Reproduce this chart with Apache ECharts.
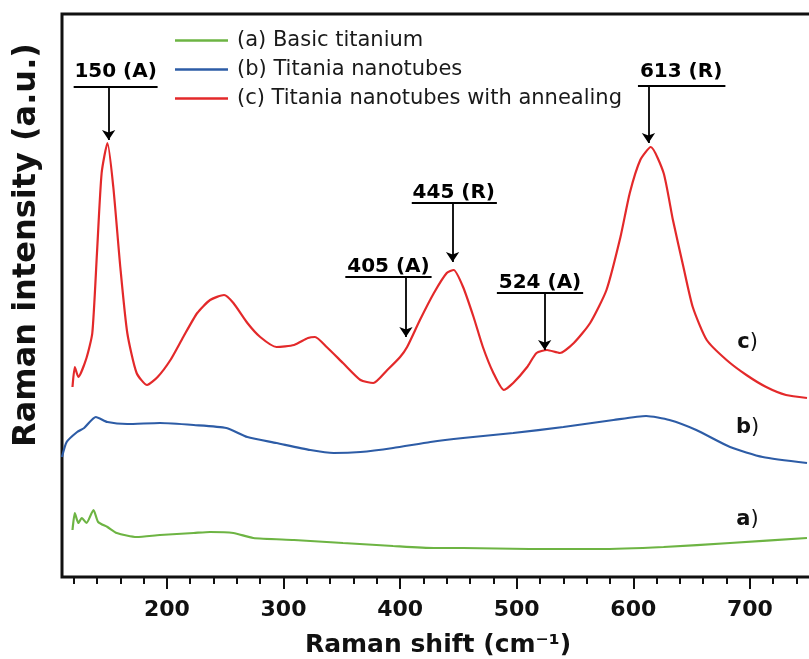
<!DOCTYPE html>
<html>
<head>
<meta charset="utf-8">
<script src="https://cdn.jsdelivr.net/npm/echarts@6/dist/echarts.min.js"></script>
<style>
  html, body { margin: 0; padding: 0; background: #fff; }
  #ramanChart { width: 809px; height: 659px; }
</style>
</head>
<body>
<div id="ramanChart"></div>
<script>
// spectra: Raman shift (cm-1) and intensity (a.u., offset per curve)
const shiftA = [119, 121, 124, 127, 131, 137, 141, 149, 157, 174, 194, 223, 237, 257, 274, 309, 351, 394, 429, 454, 511, 569, 626, 683, 749];
const intensityA = [47, 64, 54, 59, 54, 67, 55, 50, 44, 40, 42, 44, 45, 44, 39, 37, 34, 31, 29, 29, 28, 28, 30, 34, 39];

const shiftB = [110, 114, 123, 129, 139, 149, 166, 194, 223, 251, 269, 294, 323, 343, 366, 394, 426, 454, 497, 540, 583, 611, 631, 654, 683, 711, 749];
const intensityB = [120, 135, 145, 149, 160, 155, 153, 154, 152, 149, 140, 134, 127, 124, 125, 129, 135, 139, 144, 150, 157, 161, 157, 147, 130, 120, 114];

const shiftC = [119, 121, 124, 131, 136, 140, 144, 149, 154, 160, 166, 174, 183, 192, 203, 214, 226, 237, 249, 257, 269, 280, 294, 309, 321, 327, 337, 351, 366, 377, 389, 400, 406, 417, 429, 440, 446, 454, 463, 471, 480, 489, 497, 509, 517, 526, 537, 549, 563, 577, 589, 597, 606, 615, 626, 634, 643, 651, 663, 680, 697, 714, 731, 749];
const intensityC = [190, 210, 200, 219, 244, 324, 404, 434, 390, 310, 244, 204, 192, 200, 217, 240, 264, 277, 282, 274, 254, 240, 230, 232, 239, 240, 230, 214, 197, 194, 207, 220, 230, 257, 284, 304, 307, 290, 260, 230, 204, 187, 194, 210, 224, 227, 224, 234, 254, 287, 340, 384, 417, 430, 404, 357, 310, 270, 237, 217, 202, 190, 182, 179];

const seriesNames = ['(a) Basic titanium', '(b) Titania nanotubes', '(c) Titania nanotubes with annealing'];
const majorTicks = [200, 300, 400, 500, 600, 700];
const minorTicks = [120, 140, 160, 180, 220, 240, 260, 280, 320, 340, 360, 380, 420, 440, 460, 480, 520, 540, 560, 580, 620, 640, 660, 680, 720, 740];

const peakLabels = ['150 (A)', '405 (A)', '445 (R)', '524 (A)', '613 (R)'];
const peakShifts = [150, 405, 445, 524, 613];

const FONT = '"DejaVu Sans", "Liberation Sans", sans-serif';

function zip(xs, ys) {
  return xs.map((x, i) => [x, ys[i]]);
}

// label box / underline / arrow tip for each peak note, in axis units
const noteLayout = [
  {cx: 156, ty: 505, uy: 490, u: [120, 192], tip: 437},
  {cx: 390, ty: 310, uy: 300, u: [353, 427], tip: 240},
  {cx: 446, ty: 384, uy: 374, u: [410, 483], tip: 315},
  {cx: 520, ty: 294, uy: 284, u: [483, 557], tip: 227},
  {cx: 641, ty: 505, uy: 491, u: [604, 679], tip: 434},
];

const noteLines = [];
const noteTexts = [];
peakShifts.forEach((x, i) => {
  const l = noteLayout[i];
  noteLines.push([
    {coord: [l.u[0], l.uy], symbol: 'none'},
    {coord: [l.u[1], l.uy], symbol: 'none'}
  ]);
  noteLines.push([
    {coord: [x, l.uy], symbol: 'none'},
    {coord: [x, l.tip], symbol: 'arrow'}
  ]);
  noteTexts.push({name: peakLabels[i], coord: [l.cx, l.ty]});
});

function curveTag(letter, y) {
  return {
    silent: true,
    symbol: 'circle',
    symbolSize: 1,
    itemStyle: {color: 'rgba(0,0,0,0)'},
    label: {
      show: true,
      position: 'inside',
      formatter: '{l|' + letter + '}{p|)}',
      rich: {
        l: {fontFamily: FONT, fontWeight: 'bold', fontSize: 21, color: '#111'},
        p: {fontFamily: FONT, fontSize: 21, color: '#111'}
      }
    },
    data: [{name: letter, coord: [698, y]}]
  };
}

const myChart = echarts.init(document.getElementById('ramanChart'));

const option = {
  animation: false,
  backgroundColor: '#fff',
  grid: {
    left: 62,
    right: -5,
    top: 14,
    bottom: 82,
    outerBoundsMode: 'none',
    show: true,
    borderColor: '#111',
    borderWidth: 3
  },
  legend: {
    data: seriesNames.map(n => ({name: n, icon: 'rect'})),
    orient: 'vertical',
    left: 170,
    top: 25,
    itemWidth: 53,
    itemHeight: 2.5,
    itemGap: 8,
    selectedMode: false,
    textStyle: {fontFamily: FONT, fontSize: 21, color: '#1a1a1a', padding: [0, 0, 0, 4]}
  },
  xAxis: [
    {
      type: 'value',
      min: 110,
      max: 755,
      name: 'Raman shift (cm\u207B\u00B9)',
      nameLocation: 'middle',
      nameGap: 56,
      nameTextStyle: {fontFamily: FONT, fontWeight: 'bold', fontSize: 25, color: '#111'},
      axisLine: {show: false},
      splitLine: {show: false},
      axisTick: {show: true, customValues: majorTicks, length: 12, lineStyle: {color: '#111', width: 2}},
      axisLabel: {
        customValues: majorTicks,
        margin: 22,
        fontFamily: FONT,
        fontWeight: 'bold',
        fontSize: 22,
        color: '#111'
      }
    },
    {
      type: 'value',
      position: 'bottom',
      min: 110,
      max: 755,
      axisLine: {show: false},
      splitLine: {show: false},
      axisLabel: {show: false},
      axisTick: {show: true, customValues: minorTicks, length: 7, lineStyle: {color: '#111', width: 2}}
    }
  ],
  yAxis: {
    type: 'value',
    min: 0,
    max: 563,
    axisLine: {show: false},
    axisTick: {show: false},
    axisLabel: {show: false},
    splitLine: {show: false}
  },
  graphic: [
    {
      type: 'text',
      x: 27,
      y: 245,
      rotation: Math.PI / 2,
      style: {
        text: 'Raman intensity (a.u.)',
        font: 'bold 32px ' + FONT,
        fill: '#111',
        align: 'center',
        verticalAlign: 'middle'
      }
    }
  ],
  series: [
    {
      name: seriesNames[0],
      type: 'line',
      symbol: 'none',
      smooth: 0.2,
      lineStyle: {color: '#6db443', width: 2.2},
      itemStyle: {color: '#6db443'},
      data: zip(shiftA, intensityA),
      markPoint: curveTag('a', 57)
    },
    {
      name: seriesNames[1],
      type: 'line',
      symbol: 'none',
      smooth: 0.2,
      lineStyle: {color: '#2d5ca6', width: 2.2},
      itemStyle: {color: '#2d5ca6'},
      data: zip(shiftB, intensityB),
      markPoint: curveTag('b', 149)
    },
    {
      name: seriesNames[2],
      type: 'line',
      symbol: 'none',
      smooth: 0.2,
      lineStyle: {color: '#e3292a', width: 2.2},
      itemStyle: {color: '#e3292a'},
      data: zip(shiftC, intensityC),
      markPoint: curveTag('c', 234),
      markLine: {
        silent: true,
        symbolSize: 10,
        label: {show: false},
        lineStyle: {color: '#000', width: 1.8, type: 'solid'},
        data: noteLines
      }
    },
    {
      // peak notes
      name: 'notes',
      type: 'scatter',
      silent: true,
      symbolSize: 0,
      itemStyle: {opacity: 1, color: '#000'},
      data: noteTexts.map(n => ({name: n.name, value: n.coord})),
      label: {
        show: true,
        position: 'inside',
        formatter: p => p.name,
        fontFamily: FONT,
        fontWeight: 'bold',
        fontSize: 20,
        color: '#000',
        opacity: 1
      }
    }
  ]
};

myChart.setOption(option);
</script>
</body>
</html>
